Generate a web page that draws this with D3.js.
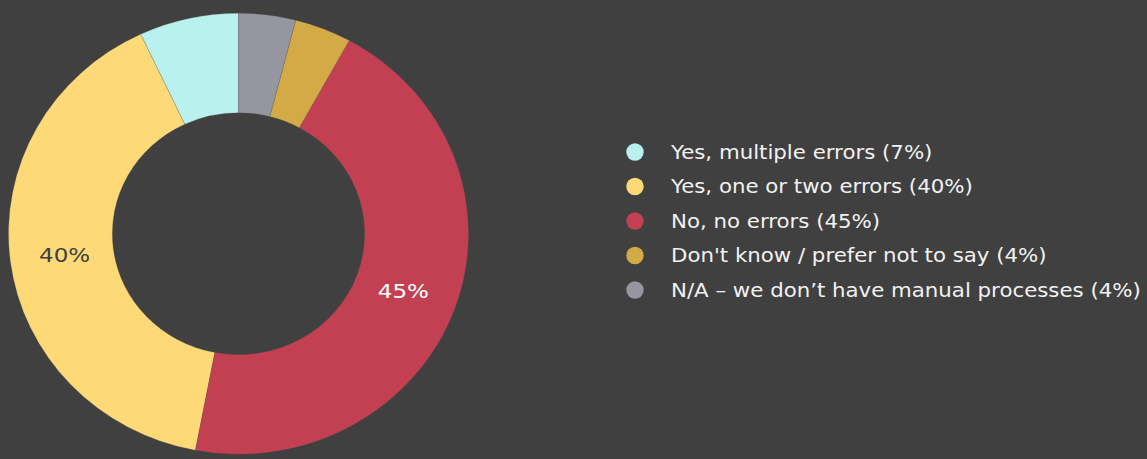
<!DOCTYPE html>
<html>
<head>
<meta charset="utf-8">
<script src="https://cdn.jsdelivr.net/npm/d3@7"></script>
<style>
  html, body { margin: 0; padding: 0; background: #404040; }
  svg { display: block; }
  text { font-family: "DejaVu Sans", "Liberation Sans", sans-serif; }
</style>
</head>
<body>
<svg id="chart" width="1147" height="459"></svg>
<script>
// Survey answers, listed in legend order
const categories = [
  "Yes, multiple errors",
  "Yes, one or two errors",
  "No, no errors",
  "Don't know / prefer not to say",
  "N/A \u2013 we don\u2019t have manual processes"
];
const values = [7, 40, 45, 4, 4];
const colors = ["#b8f1ed", "#fdd978", "#c24052", "#d4aa46", "#9696a1"];
const labelColors = ["#404040", "#404040", "#ffffff", "#404040", "#ffffff"];

const W = 1147, H = 459;
const cx = 238.5, cy = 233.7;
const rOuter = 220.5, rInner = 121, rLabel = 168;
const stretchX = 1.043;      // the ring is slightly wider than tall
const textStretch = 1.11;    // wide lettering

const svg = d3.select("#chart");
svg.append("rect").attr("width", W).attr("height", H).attr("fill", "#404040");

const data = categories.map((c, i) => ({ name: c, value: values[i], color: colors[i], labelColor: labelColors[i] }));

// Slices run counter-clockwise from 12 o'clock
const pie = d3.pie().value(d => d.value).sort(null).startAngle(0).endAngle(-2 * Math.PI);
const arcs = pie(data);
const arc = d3.arc().innerRadius(rInner).outerRadius(rOuter);
const labelArc = d3.arc().innerRadius(rLabel).outerRadius(rLabel);

const g = svg.append("g").attr("transform", `translate(${cx},${cy})`);
g.append("g").attr("transform", `scale(${stretchX},1)`)
  .selectAll("path").data(arcs).join("path")
  .attr("d", arc)
  .attr("fill", d => d.data.color)
  .attr("stroke", "#555")
  .attr("stroke-opacity", 0.35)
  .attr("stroke-width", 0.6);

// Percentage labels on the larger slices
g.selectAll("text.pct").data(arcs.filter(d => d.data.value >= 10)).join("text")
  .attr("class", "pct")
  .attr("transform", d => {
    const [x, y] = labelArc.centroid(d);
    return `translate(${x * stretchX},${y}) scale(1.15,1)`;
  })
  .attr("dy", "0.36em")
  .attr("text-anchor", "middle")
  .style("font-size", "20px")
  .attr("fill", d => d.data.labelColor)
  .text(d => d.data.value + "%");

// Legend
const legend = svg.append("g").attr("transform", "translate(635,152)");
const rowH = 34.5;
const rows = legend.selectAll("g").data(data).join("g")
  .attr("transform", (d, i) => `translate(0,${i * rowH})`);
rows.append("circle").attr("r", 8.7).attr("fill", d => d.color);
rows.append("text")
  .attr("transform", `translate(36,0) scale(${textStretch},1)`)
  .attr("dy", "0.34em")
  .style("font-size", "19.2px")
  .attr("fill", "#f2f2f2")
  .text(d => `${d.name} (${d.value}%)`);
</script>
</body>
</html>
